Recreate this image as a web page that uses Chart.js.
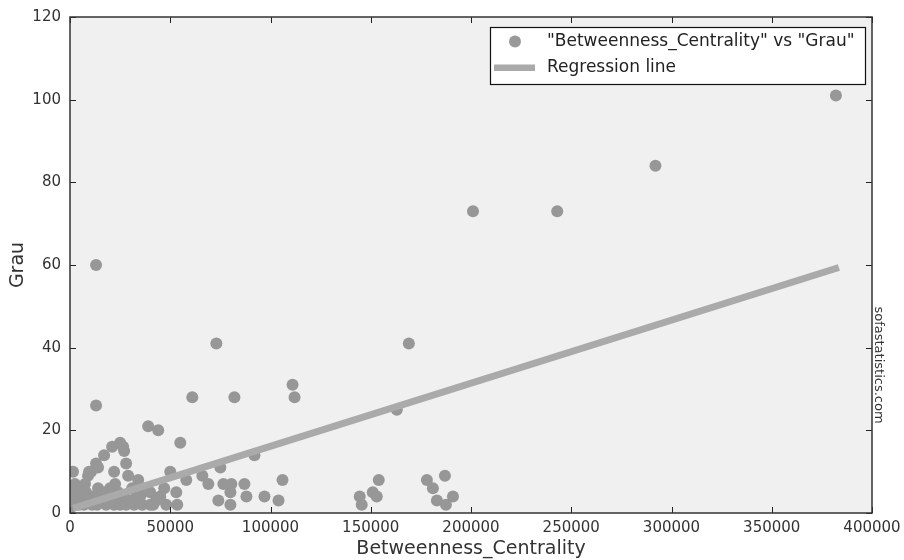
<!DOCTYPE html>
<html>
<head>
<meta charset="utf-8">
<script src="https://cdn.jsdelivr.net/npm/chart.js@4.4.0/dist/chart.umd.min.js"></script>
<style>
  body { margin: 0; background: #fff; }
  #wrap { width: 904px; height: 560px; }
</style>
</head>
<body>
<div id="wrap"><canvas id="chart" width="904" height="560"></canvas></div>
<script>
// donnees
const betweenness = [
  382000, 292000, 243000, 201000, 13000, 73000, 169000, 13000, 61000, 82000,
  111000, 112000, 163000, 39000, 44000, 55000, 25000, 26500, 21000, 17000,
  92000, 13000, 28000, 75000, 14000, 50000, 22000, 1500, 10500, 9000,
  29000, 66000, 106000, 58000, 34000, 7500, 22500, 69000, 76500, 87000,
  80500, 14000, 4000, 80000, 53000, 40000, 97000, 88000, 45000, 104000,
  74000, 80000, 53500, 48000, 41500, 32000, 28000, 25000, 3000,
  144500, 145500, 151000, 153000, 154000, 178000, 181000, 187000, 183000, 187500, 191000,
  0, 500, 1000, 2000, 2500, 4500, 5000, 6000, 7000, 8000,
  9500, 11000, 12000, 15000, 16000, 18000, 19000, 20000, 23000, 24000,
  27000, 30000, 31000, 35000, 36000, 43000, 47000, 33000, 18400, 13500,
  22000, 40000, 36000, 27000, 9500
];
const grau = [
  101, 84, 73, 73, 60, 41, 41, 26, 28, 28,
  31, 28, 25, 21, 20, 17, 17, 16, 16, 14,
  14, 12, 12, 11, 11, 10, 10, 10, 10, 9,
  9, 9, 8, 8, 8, 7, 7, 7, 7, 7,
  7, 6, 6, 5, 5, 5, 4, 4, 4, 3,
  3, 2, 2, 2, 2, 2, 2, 2, 4,
  4, 2, 5, 4, 8, 8, 6, 9, 3, 2, 4,
  1, 3, 5, 2, 7, 2, 3, 4, 2, 5,
  3, 2, 4, 3, 5, 2, 4, 6, 3, 5,
  4, 3, 6, 4, 2, 3, 6, 5, 5, 2,
  2, 2, 6, 15, 10
];
// droite de regression (extremites)
const regX = [1500, 383500];
const regY = [1.1, 59.4];

const xTicks = [0, 50000, 100000, 150000, 200000, 250000, 300000, 350000, 400000];
const yTicks = [0, 20, 40, 60, 80, 100, 120];

const seriesLabel = '"Betweenness_Centrality" vs "Grau"';
const lineLabel = 'Regression line';

const points = betweenness.map((b, i) => ({ x: b, y: grau[i] }));
const regPoints = regX.map((v, i) => ({ x: v, y: regY[i] }));

Chart.defaults.font.family = '"DejaVu Sans", sans-serif';
Chart.defaults.color = '#333';

// fond gris, cadre, ticks internes, legende, filigrane
const decor = {
  id: 'decor',
  beforeDraw(chart) {
    const { ctx, chartArea: a } = chart;
    ctx.save();
    ctx.fillStyle = '#f0f0f0';
    ctx.fillRect(a.left, a.top, a.right - a.left, a.bottom - a.top);
    ctx.restore();
  },
  afterDraw(chart) {
    const { ctx, chartArea: a, scales } = chart;
    const x = scales.x, y = scales.y;
    ctx.save();
    ctx.strokeStyle = '#222';
    ctx.lineWidth = 1;
    ctx.beginPath();
    x.ticks.forEach(t => {
      const px = Math.round(x.getPixelForValue(t.value)) + 0.5;
      ctx.moveTo(px, a.bottom); ctx.lineTo(px, a.bottom - 6);
      ctx.moveTo(px, a.top); ctx.lineTo(px, a.top + 6);
    });
    y.ticks.forEach(t => {
      const py = Math.round(y.getPixelForValue(t.value)) + 0.5;
      ctx.moveTo(a.left, py); ctx.lineTo(a.left + 6, py);
      ctx.moveTo(a.right, py); ctx.lineTo(a.right - 6, py);
    });
    ctx.stroke();

    // cadre
    ctx.strokeStyle = '#333';
    ctx.lineWidth = 1.5;
    ctx.strokeRect(a.left, a.top, a.right - a.left, a.bottom - a.top);

    // legende
    const lx = 490, ly = 27, lw = 375, lh = 57;
    ctx.fillStyle = '#fff';
    ctx.fillRect(lx, ly, lw, lh);
    ctx.strokeStyle = '#111';
    ctx.lineWidth = 1.2;
    ctx.strokeRect(lx + 0.5, ly + 0.5, lw, lh);
    ctx.fillStyle = '#999';
    ctx.beginPath();
    ctx.arc(515, 41.5, 6, 0, Math.PI * 2);
    ctx.fill();
    ctx.fillStyle = '#aaa';
    ctx.fillRect(494, 64.5, 41, 6.5);
    ctx.fillStyle = '#222';
    ctx.font = '17px "DejaVu Sans"';
    ctx.textBaseline = 'middle';
    ctx.textAlign = 'left';
    ctx.fillText(seriesLabel, 547, 42);
    ctx.fillText(lineLabel, 547, 68);

    // filigrane
    ctx.translate(878, 365);
    ctx.rotate(Math.PI / 2);
    ctx.textAlign = 'center';
    ctx.font = '13px "DejaVu Sans"';
    ctx.fillStyle = '#333';
    ctx.fillText('sofastatistics.com', 0, 0);
    ctx.restore();
  }
};

new Chart(document.getElementById('chart'), {
  type: 'scatter',
  data: {
    datasets: [
      {
        type: 'line',
        label: lineLabel,
        data: regPoints,
        borderColor: '#aaaaaa',
        borderWidth: 7,
        pointRadius: 0,
        fill: false,
        order: 0
      },
      {
        label: seriesLabel,
        data: points,
        backgroundColor: '#979797',
        borderWidth: 0,
        pointRadius: 6,
        pointHoverRadius: 6,
        order: 1
      }
    ]
  },
  options: {
    responsive: false,
    animation: false,
    layout: { padding: { top: 17, right: 32, left: 0, bottom: 0 } },
    plugins: {
      legend: { display: false },
      tooltip: { enabled: false }
    },
    scales: {
      x: {
        type: 'linear',
        min: 0,
        max: 400000,
        afterBuildTicks: s => { s.ticks = xTicks.map(v => ({ value: v })); },
        afterFit: s => { s.height = 47; s.paddingRight = 0; s.paddingLeft = 0; },
        grid: { display: false, drawTicks: false },
        border: { display: false },
        ticks: {
          padding: 6,
          maxRotation: 0,
          font: { size: 15 },
          color: '#333',
          callback: v => String(v)
        },
        title: {
          display: true,
          text: 'Betweenness_Centrality',
          font: { size: 19 },
          color: '#333',
          padding: { top: 0, bottom: 0 }
        }
      },
      y: {
        type: 'linear',
        min: 0,
        max: 120,
        afterBuildTicks: s => { s.ticks = yTicks.map(v => ({ value: v })); },
        afterFit: s => { s.width = 70; s.paddingTop = 0; s.paddingBottom = 0; },
        grid: { display: false, drawTicks: false },
        border: { display: false },
        ticks: {
          padding: 9,
          font: { size: 15 },
          color: '#333',
          callback: v => String(v)
        },
        title: {
          display: true,
          text: 'Grau',
          font: { size: 19 },
          color: '#333',
          padding: { top: 7, bottom: 0 }
        }
      }
    }
  },
  plugins: [decor]
});
</script>
</body>
</html>
